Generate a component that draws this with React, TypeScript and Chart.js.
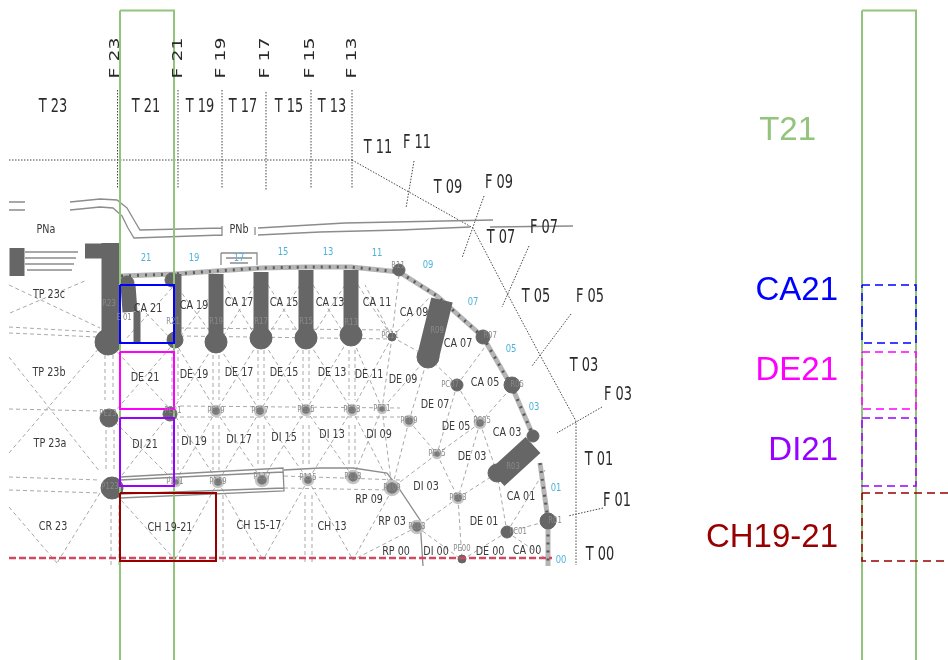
import React, { useEffect, useRef } from "react";
import { Chart, registerables } from "chart.js";

Chart.register(...registerables);

type Label = [string, number, number];

// ---------- reference frame of the drawing ----------
const xRange = [0, 948];
const yRange = [660, 0];

// ---------- linework: each entry is a polyline x,y,x,y... ----------
const gridDotted: number[][] = [
  [9, 160, 352, 160],
  [117.5, 90, 117.5, 188],
  [178, 90, 178, 189],
  [222, 90, 222, 189],
  [266, 92, 266, 191],
  [311, 90, 311, 189],
  [352, 90, 352, 188],
  [352, 160, 473, 228, 508, 295, 540, 355, 558, 388, 576, 421, 576, 565],
  [414, 161, 406, 208],
  [484, 196, 462, 258],
  [529, 246, 502, 307],
  [571, 314, 532, 366],
  [602, 407, 557, 433],
  [603, 508, 568, 516],
];

const sketchLines: number[][] = [
  [9, 202, 25, 202],
  [9, 210, 25, 210],
  [70, 202, 100, 199, 117, 200, 127, 208, 134, 220, 140, 230, 222, 228],
  [70, 210, 100, 207, 113, 208, 122, 216, 128, 228, 134, 238, 222, 235],
  [222, 226, 222, 236],
  [255, 227, 255, 235],
  [258, 228, 345, 223, 493, 220],
  [258, 235, 320, 232, 400, 230, 470, 227],
  [490, 227, 573, 226],
  [120, 477, 283, 468, 284, 491, 120, 498],
  [120, 480, 283, 472],
  [120, 494, 284, 488],
  [284, 470, 320, 468, 353, 468, 387, 473, 400, 490, 420, 520, 423, 566],
  [221, 253, 257, 253, 257, 265],
  [221, 253, 221, 265],
  [226, 258, 252, 258],
  [230, 263, 248, 263],
  [25, 252, 78, 252],
  [25, 258, 76, 258],
  [25, 264, 74, 264],
  [27, 270, 72, 270],
];

const meshDashed: number[][] = [
  [9, 327, 97, 332], [9, 333, 97, 337],
  [9, 409, 100, 411],
  [9, 477, 100, 480], [9, 490, 100, 493],
  [180, 328, 392, 330], [180, 336, 392, 339],
  [180, 406, 400, 408], [180, 417, 400, 417],
  [284, 476, 400, 480], [284, 488, 390, 490],
  [105, 355, 105, 400], [113, 355, 113, 400], [106, 430, 106, 470], [114, 430, 114, 470],
  [111, 505, 111, 565], [119, 505, 119, 565],
  [172, 350, 172, 400], [178, 350, 178, 400], [172, 425, 172, 470], [178, 425, 178, 470],
  [213, 355, 213, 400], [219, 355, 219, 400], [213, 425, 213, 470], [219, 425, 219, 470],
  [258, 350, 258, 400], [264, 350, 264, 400], [258, 425, 258, 465], [264, 425, 264, 465],
  [303, 350, 303, 400], [309, 350, 309, 400], [303, 425, 303, 465], [309, 425, 309, 465],
  [349, 350, 349, 400], [355, 350, 355, 400], [349, 425, 349, 465], [355, 425, 355, 465],
  [216, 495, 216, 565], [223, 495, 223, 565], [305, 495, 305, 565], [312, 495, 312, 565],
  [10, 313, 87, 280], [9, 285, 100, 328],
  [9, 357, 100, 472], [9, 453, 100, 347],
  [9, 507, 57, 563], [100, 493, 57, 563],
  [108, 342, 172, 411], [175, 342, 110, 417],
  [175, 342, 216, 411], [216, 342, 172, 411],
  [216, 342, 260, 411], [261, 338, 216, 411],
  [261, 338, 306, 410], [306, 338, 260, 411],
  [306, 338, 352, 410], [351, 335, 306, 410],
  [351, 335, 382, 409], [392, 337, 352, 410],
  [110, 417, 175, 482], [172, 411, 112, 488],
  [172, 411, 218, 482], [216, 411, 175, 482],
  [216, 411, 262, 480], [260, 411, 218, 482],
  [260, 411, 308, 480], [306, 410, 262, 480],
  [306, 410, 353, 477], [352, 410, 308, 480],
  [352, 410, 392, 488], [382, 409, 353, 477],
  [112, 490, 175, 560], [218, 482, 175, 560],
  [218, 482, 263, 560], [308, 480, 263, 560],
  [308, 480, 353, 560], [392, 490, 353, 560],
  [417, 527, 353, 560],
  [122, 288, 172, 340], [172, 288, 125, 340],
  [178, 288, 216, 340], [216, 288, 178, 340],
  [224, 285, 255, 335], [255, 285, 224, 335],
  [268, 285, 300, 335], [300, 285, 268, 335],
  [313, 285, 345, 335], [345, 285, 313, 335],
  [358, 285, 392, 337], [392, 337, 365, 285],
  [399, 275, 392, 337], [392, 337, 430, 297],
  [392, 337, 382, 409], [428, 357, 382, 409],
  [428, 357, 409, 421], [409, 421, 392, 488], [382, 409, 392, 488],
  [409, 421, 437, 454], [437, 454, 392, 488], [437, 454, 458, 498],
  [437, 454, 480, 423], [457, 385, 428, 357], [457, 385, 437, 454],
  [457, 385, 490, 340], [457, 385, 480, 423], [480, 423, 512, 387],
  [480, 423, 458, 498], [480, 423, 497, 473], [458, 498, 497, 473],
  [458, 498, 417, 527], [458, 498, 462, 560], [417, 527, 462, 560],
  [507, 532, 497, 473], [507, 532, 548, 521], [507, 532, 545, 470],
  [507, 532, 462, 560], [507, 532, 548, 560], [392, 337, 428, 357],
];

const baseline: number[][] = [[9, 558, 552, 558]];
const wallBand: number[][] = [
  [121, 276, 175, 274, 216, 271, 261, 268, 306, 267, 351, 267, 399, 272, 437, 296, 483, 337, 512, 387, 532, 433],
  [540, 463, 548, 520, 548, 566],
];

const piersWide: number[][] = [
  [442, 300, 428, 357],
  [533, 445, 497, 478],
];
const piersMedium: number[][] = [
  [216, 274, 216, 342],
  [261, 272, 261, 338],
  [306, 270, 306, 338],
  [351, 270, 351, 335],
  [128, 285, 130, 312],
  [17, 248, 17, 276],
  [85, 251, 110, 251],
];
const piersColumn: number[][] = [[110.5, 243, 110.5, 342]];
const piersThin: number[][] = [
  [178, 274, 178, 340],
  [137, 312, 137, 342],
];

// ---------- plan nodes: x, y, radius ----------
const solidNodes: number[][] = [
  [108, 342, 13], [216, 342, 11], [261, 338, 11], [306, 338, 11], [351, 335, 11],
  [175, 340, 8], [428, 357, 11], [399, 270, 6], [483, 337, 7], [512, 385, 8],
  [548, 521, 8], [392, 337, 4], [457, 385, 6], [507, 532, 6], [109, 418, 9],
  [170, 414, 7], [112, 488, 11], [497, 473, 9], [533, 436, 6], [462, 559, 4],
  [172, 280, 7], [127, 283, 7],
];
const ringNodes: number[][] = [
  [216, 411, 5], [260, 411, 5], [306, 410, 5], [352, 410, 5], [382, 409, 4],
  [409, 421, 5], [437, 454, 4], [458, 498, 5], [480, 423, 5], [218, 482, 5],
  [262, 480, 6], [308, 480, 5], [353, 477, 6], [392, 488, 7], [417, 527, 6], [176, 482, 4],
];

// ---------- overlay frames: x0, y0, x1, y1 ----------
const frameT21 = [120, 10.5, 174, 670];
const frameCA21 = [120, 285, 174, 343];
const frameDE21 = [120, 352, 174, 409];
const frameDI21 = [120, 418, 174, 486];
const frameCH1921 = [120, 493, 216, 561];
const sideT21 = [862, 10.5, 916, 670];
const sideCA21 = [862, 285, 916, 343];
const sideDE21 = [862, 352, 916, 409];
const sideDI21 = [862, 418, 916, 486];
const sideCH1921 = [862, 493, 960, 561];

// ---------- text ----------
const rotatedLabels: Label[] = [
  ["F 23", 115, 58], ["F 21", 178, 58], ["F 19", 221, 58],
  ["F 17", 265, 58], ["F 15", 310, 58], ["F 13", 352, 58],
];
const axisLabels: Label[] = [
  ["T 23", 53, 107], ["T 21", 146, 107], ["T 19", 200, 107], ["T 17", 243, 107],
  ["T 15", 289, 107], ["T 13", 332, 107], ["T 11", 378, 148], ["F 11", 417, 143],
  ["T 09", 448, 188], ["F 09", 499, 183], ["T 07", 501, 238], ["F 07", 544, 228],
  ["T 05", 536, 297], ["F 05", 590, 297], ["T 03", 584, 366], ["F 03", 618, 395],
  ["T 01", 599, 460], ["F 01", 617, 501], ["T 00", 600, 555],
];
const roomLabels: Label[] = [
  ["PNa", 46, 230], ["PNb", 239, 230], ["TP 23c", 49, 295], ["TP 23b", 49, 373],
  ["TP 23a", 50, 444], ["CR 23", 53, 527],
  ["CA 21", 148, 309], ["CA 19", 194, 306], ["CA 17", 239, 303], ["CA 15", 284, 303],
  ["CA 13", 330, 303], ["CA 11", 377, 303], ["CA 09", 414, 313], ["CA 07", 458, 344],
  ["CA 05", 485, 383], ["CA 03", 507, 433], ["CA 01", 521, 497], ["CA 00", 527, 551],
  ["DE 21", 145, 378], ["DE 19", 194, 375], ["DE 17", 239, 373], ["DE 15", 284, 373],
  ["DE 13", 332, 373], ["DE 11", 369, 375], ["DE 09", 403, 380], ["DE 07", 435, 405],
  ["DE 05", 456, 427], ["DE 03", 472, 457], ["DE 01", 484, 522], ["DE 00", 490, 552],
  ["DI 21", 145, 445], ["DI 19", 194, 442], ["DI 17", 239, 440], ["DI 15", 284, 438],
  ["DI 13", 332, 435], ["DI 09", 379, 435], ["DI 03", 426, 487], ["DI 00", 436, 552],
  ["CH 19-21", 170, 528], ["CH 15-17", 259, 526], ["CH 13", 332, 527],
  ["RP 09", 369, 500], ["RP 03", 392, 522], ["RP 00", 396, 552],
];
const nodeLabels: Label[] = [
  ["R23", 109, 304], ["E 01", 124, 318], ["R21", 173, 322], ["R19", 216, 322],
  ["R17", 261, 322], ["R15", 306, 322], ["R13", 351, 323], ["R11", 398, 266],
  ["PC11", 390, 336], ["R09", 437, 331], ["R07", 490, 336], ["PC07", 450, 385],
  ["R05", 517, 385], ["R03", 513, 467], ["R01", 555, 521], ["PC05", 482, 421],
  ["PC01", 518, 532], ["PE23", 108, 414], ["PE21", 173, 411], ["PE19", 216, 411],
  ["PE17", 260, 411], ["PE15", 306, 410], ["PE13", 352, 410], ["PE11", 382, 409],
  ["PE09", 409, 421], ["PE05", 437, 454], ["PE03", 458, 498], ["PE00", 462, 549],
  ["P123", 110, 487], ["P121", 175, 482], ["P119", 218, 482], ["P117", 262, 477],
  ["P115", 308, 478], ["P113", 353, 477], ["P109", 392, 488], ["P103", 417, 527],
];
const bayNumbers: Label[] = [
  ["21", 146, 258], ["19", 194, 258], ["17", 239, 258], ["15", 283, 252], ["13", 328, 252],
  ["11", 377, 253], ["09", 428, 265], ["07", 473, 302], ["05", 511, 349], ["03", 534, 407],
  ["01", 556, 488], ["00", 561, 560],
];
const sideLabels: { text: string; right: number; y: number; color: string }[] = [
  { text: "T21", right: 816, y: 131, color: "#93c47d" },
  { text: "CA21", right: 838, y: 291, color: "#0000ff" },
  { text: "DE21", right: 838, y: 371, color: "#ff00ff" },
  { text: "DI21", right: 838, y: 451, color: "#9900ff" },
  { text: "CH19-21", right: 838, y: 538, color: "#980000" },
];

const toPoints = (lines: number[][]) => {
  const out: { x: number; y: number }[] = [];
  lines.forEach((line) => {
    for (let i = 0; i + 1 < line.length; i += 2) out.push({ x: line[i], y: line[i + 1] });
    out.push({ x: NaN, y: NaN });
  });
  return out;
};
const frame = (f: number[]) =>
  toPoints([[f[0], f[1], f[2], f[1], f[2], f[3], f[0], f[3], f[0], f[1]]]);

const lineSet = (data: { x: number; y: number }[], color: string, width: number, dash: number[] = [], cap: CanvasLineCap = "butt") => ({
  type: "scatter" as const,
  data,
  showLine: true,
  spanGaps: false,
  borderColor: color,
  borderWidth: width,
  borderDash: dash,
  borderCapStyle: cap,
  tension: 0,
  pointRadius: 0,
  pointHoverRadius: 0,
  fill: false,
});
const nodeSet = (nodes: number[][], fill: string, ring: string, ringWidth: number) => ({
  type: "scatter" as const,
  data: nodes.map((n) => ({ x: n[0], y: n[1] })),
  showLine: false,
  pointRadius: nodes.map((n) => n[2]),
  pointBackgroundColor: fill,
  pointBorderColor: ring,
  pointBorderWidth: ringWidth,
});

const textLayer = {
  id: "textLayer",
  afterDatasetsDraw(chart: any) {
    const { ctx, scales } = chart;
    const X = (v: number) => scales.x.getPixelForValue(v);
    const Y = (v: number) => scales.y.getPixelForValue(v);
    const draw = (list: Label[], font: string, color: string, squeeze: number) => {
      list.forEach(([t, x, y]) => {
        ctx.save();
        ctx.translate(X(x), Y(y));
        ctx.scale(squeeze, 1);
        ctx.font = font;
        ctx.fillStyle = color;
        ctx.textAlign = "center";
        ctx.textBaseline = "middle";
        ctx.fillText(t, 0, 0);
        ctx.restore();
      });
    };
    const narrow = '"DejaVu Sans Condensed", "DejaVu Sans"';
    draw(nodeLabels, `9px ${narrow}`, "#8a8a8a", 0.85);
    draw(roomLabels, `13px ${narrow}`, "#3a3a3a", 0.82);
    draw(axisLabels, `20px ${narrow}`, "#2a2a2a", 0.72);
    draw(bayNumbers, `11px ${narrow}`, "#4fb3d9", 0.85);
    rotatedLabels.forEach(([t, x, y]) => {
      ctx.save();
      ctx.translate(X(x), Y(y));
      ctx.rotate(-Math.PI / 2);
      ctx.scale(1.35, 1);
      ctx.font = '14px "DejaVu Sans"';
      ctx.fillStyle = "#2a2a2a";
      ctx.textAlign = "center";
      ctx.textBaseline = "middle";
      ctx.fillText(t, 0, 0);
      ctx.restore();
    });
    ctx.save();
    ctx.font = '33px "Liberation Sans"';
    ctx.textAlign = "right";
    ctx.textBaseline = "middle";
    sideLabels.forEach((s) => {
      ctx.fillStyle = s.color;
      ctx.fillText(s.text, X(s.right), Y(s.y));
    });
    ctx.restore();
  },
};

export default function App() {
  const ref = useRef<HTMLCanvasElement>(null);
  useEffect(() => {
    document.body.style.margin = "0";
    // paint order, bottom first; Chart.js paints the first dataset last
    const paint = [
      lineSet(toPoints(meshDashed), "#a8a8a8", 1, [4, 3]),
      lineSet(toPoints(gridDotted), "#444444", 1, [1.5, 1.5]),
      lineSet(toPoints(sketchLines), "#8c8c8c", 1.3),
      lineSet(toPoints(wallBand), "#b5b5b5", 5),
      lineSet(toPoints(wallBand), "#5a5a5a", 3, [2, 6]),
      lineSet(toPoints(piersWide), "#666666", 22),
      lineSet(toPoints(piersMedium), "#666666", 15),
      lineSet(toPoints(piersColumn), "#666666", 18),
      lineSet(toPoints(piersThin), "#666666", 7),
      nodeSet(solidNodes, "#666666", "#666666", 1),
      nodeSet(ringNodes, "#777777", "#c4c4c4", 2.5),
      lineSet(toPoints(baseline), "#cf4a5e", 2.5, [7, 3]),
      lineSet(frame(frameT21), "#93c47d", 2),
      lineSet(frame(sideT21), "#93c47d", 2),
      lineSet(frame(frameCA21), "#0000ff", 2),
      lineSet(frame(frameDE21), "#ff00ff", 2),
      lineSet(frame(frameDI21), "#9900ff", 2),
      lineSet(frame(frameCH1921), "#980000", 2),
      lineSet(frame(sideCA21), "#0000ff", 1.5, [8, 5]),
      lineSet(frame(sideDE21), "#ff00ff", 1.5, [8, 5]),
      lineSet(frame(sideDI21), "#9900ff", 1.5, [8, 5]),
      lineSet(frame(sideCH1921), "#980000", 1.5, [8, 5]),
    ];
    const chart = new Chart(ref.current!, {
      type: "scatter",
      data: { datasets: paint.reverse() as any },
      plugins: [textLayer],
      options: {
        animation: false,
        responsive: false,
        devicePixelRatio: 1,
        layout: { padding: 0, autoPadding: false },
        events: [],
        plugins: { legend: { display: false }, tooltip: { enabled: false }, title: { display: false } },
        scales: {
          x: { type: "linear", display: false, min: xRange[0], max: xRange[1] },
          y: { type: "linear", display: false, min: yRange[1], max: yRange[0], reverse: true },
        },
      },
    });
    return () => chart.destroy();
  }, []);
  return <canvas ref={ref} width={948} height={660} style={{ display: "block", filter: "blur(0.3px)" }} />;
}
